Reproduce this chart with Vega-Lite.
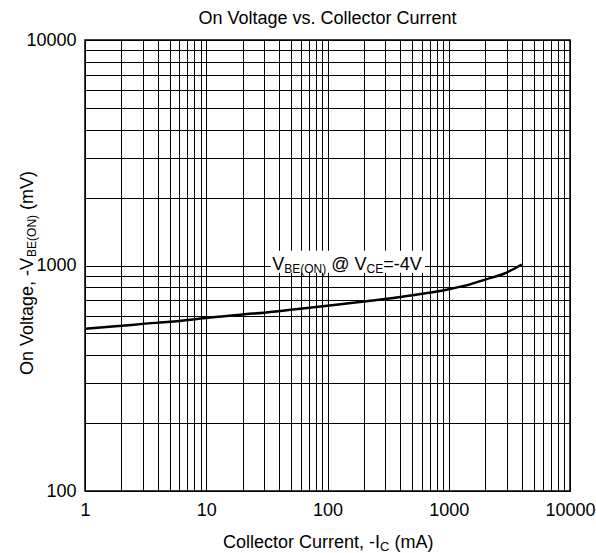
{
  "$schema": "https://vega.github.io/schema/vega-lite/v6.json",
  "width": 485,
  "height": 451,
  "autosize": {"type": "none"},
  "padding": {"left": 85, "top": 40, "right": 26, "bottom": 62},
  "background": "white",
  "config": {
    "font": "Liberation Sans",
    "view": {"stroke": "black", "strokeWidth": 1.5},
    "axis": {
      "grid": true,
      "gridColor": "black",
      "gridOpacity": 1,
      "gridWidth": 1,
      "ticks": false,
      "domain": false,
      "labelFont": "Liberation Sans",
      "labelFontSize": 18,
      "labelColor": "black",
      "title": null
    }
  },
  "title": {
    "text": "On Voltage vs. Collector Current",
    "font": "Liberation Sans",
    "fontSize": 18,
    "fontWeight": "normal",
    "color": "black",
    "anchor": "middle",
    "offset": 3
  },
  "datasets": {
    "curve": [
      {"current": 1, "voltage": 524},
      {"current": 2, "voltage": 540},
      {"current": 3, "voltage": 551},
      {"current": 5, "voltage": 563},
      {"current": 10, "voltage": 585},
      {"current": 20, "voltage": 607},
      {"current": 30, "voltage": 618},
      {"current": 50, "voltage": 636},
      {"current": 100, "voltage": 663},
      {"current": 200, "voltage": 692},
      {"current": 300, "voltage": 710},
      {"current": 500, "voltage": 738},
      {"current": 1000, "voltage": 785},
      {"current": 1500, "voltage": 825},
      {"current": 2000, "voltage": 866},
      {"current": 3000, "voltage": 930},
      {"current": 4000, "voltage": 1010}
    ],
    "box": [{"x1": 34, "x2": 637, "y1": 929, "y2": 1163}],
    "anchor": [{"current": 35, "voltage": 1000}],
    "xanchor": [{"current": 100, "voltage": 100}],
    "yanchor": [{"current": 1, "voltage": 1000}]
  },
  "encoding": {
    "x": {
      "field": "current",
      "type": "quantitative",
      "scale": {"type": "log", "domain": [1, 10000], "nice": false},
      "axis": {
        "values": [1,2,3,4,5,6,7,8,9,10,20,30,40,50,60,70,80,90,100,200,300,400,500,600,700,800,900,1000,2000,3000,4000,5000,6000,7000,8000,9000,10000],
        "format": "d",
        "labelExpr": "indexof([1,10,100,1000,10000], datum.value) >= 0 ? datum.label : ''",
        "labelPadding": 10,
        "labelFlush": false,
        "labelOverlap": false
      }
    },
    "y": {
      "field": "voltage",
      "type": "quantitative",
      "scale": {"type": "log", "domain": [100, 10000], "nice": false},
      "axis": {
        "values": [100,200,300,400,500,600,700,800,900,1000,2000,3000,4000,5000,6000,7000,8000,9000,10000],
        "format": "d",
        "labelExpr": "indexof([100,1000,10000], datum.value) >= 0 ? datum.label : ''",
        "labelPadding": 9,
        "labelFlush": false,
        "labelOverlap": false
      }
    }
  },
  "layer": [
    {
      "data": {"name": "curve"},
      "mark": {"type": "line", "color": "black", "strokeWidth": 2.5, "interpolate": "monotone"}
    },
    {
      "data": {"name": "box"},
      "mark": {"type": "rect", "color": "white", "opacity": 1},
      "encoding": {
        "x": {"field": "x1", "type": "quantitative"},
        "x2": {"field": "x2"},
        "y": {"field": "y1", "type": "quantitative"},
        "y2": {"field": "y2"}
      }
    },
    {"data": {"name": "anchor"}, "mark": {"type": "text", "text": "V", "align": "left", "baseline": "alphabetic", "fontSize": 18, "color": "black", "dx": 0, "dy": 4}},
    {"data": {"name": "anchor"}, "mark": {"type": "text", "text": "BE(ON)", "align": "left", "baseline": "alphabetic", "fontSize": 12, "color": "black", "dx": 12, "dy": 7}},
    {"data": {"name": "anchor"}, "mark": {"type": "text", "text": "@\u00a0V", "align": "left", "baseline": "alphabetic", "fontSize": 18, "color": "black", "dx": 59, "dy": 4}},
    {"data": {"name": "anchor"}, "mark": {"type": "text", "text": "CE", "align": "left", "baseline": "alphabetic", "fontSize": 12, "color": "black", "dx": 94.3, "dy": 7}},
    {"data": {"name": "anchor"}, "mark": {"type": "text", "text": "=-4V", "align": "left", "baseline": "alphabetic", "fontSize": 18, "color": "black", "dx": 111, "dy": 4}},
    {"data": {"name": "xanchor"}, "mark": {"type": "text", "text": "Collector Current, -I", "align": "right", "baseline": "alphabetic", "fontSize": 18, "color": "black", "dx": 52.5, "dy": 57}},
    {"data": {"name": "xanchor"}, "mark": {"type": "text", "text": "C", "align": "left", "baseline": "alphabetic", "fontSize": 13, "color": "black", "dx": 52.5, "dy": 60}},
    {"data": {"name": "xanchor"}, "mark": {"type": "text", "text": "(mA)", "align": "left", "baseline": "alphabetic", "fontSize": 18, "color": "black", "dx": 66.9, "dy": 57}},
    {"data": {"name": "yanchor"}, "mark": {"type": "text", "text": "On Voltage, -V", "angle": 270, "align": "left", "baseline": "alphabetic", "fontSize": 18, "color": "black", "dx": -109.5, "dy": -52}},
    {"data": {"name": "yanchor"}, "mark": {"type": "text", "text": "BE(ON)", "angle": 270, "align": "left", "baseline": "alphabetic", "fontSize": 12, "color": "black", "dx": 8.6, "dy": -49}},
    {"data": {"name": "yanchor"}, "mark": {"type": "text", "text": "(mV)", "angle": 270, "align": "left", "baseline": "alphabetic", "fontSize": 18, "color": "black", "dx": 55.6, "dy": -52}}
  ]
}
